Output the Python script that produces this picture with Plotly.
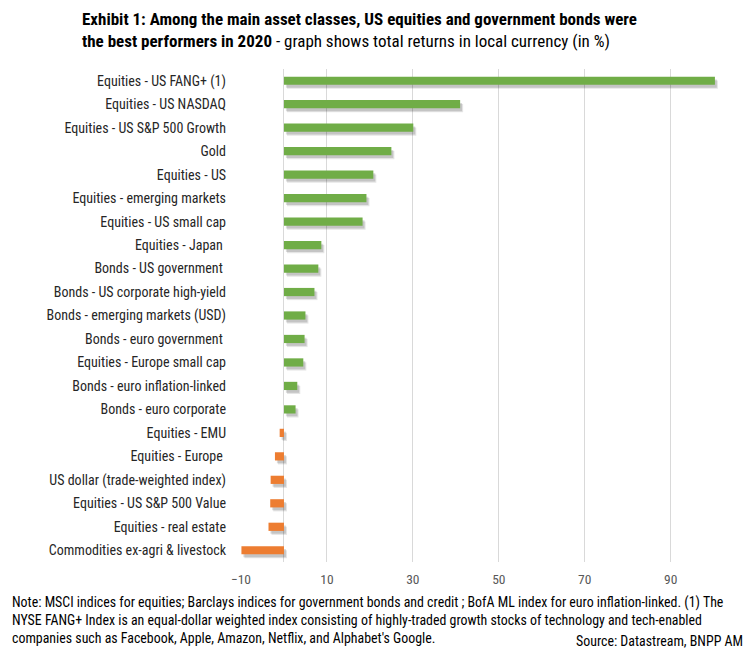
import plotly.graph_objects as go

categories = [
    "Equities - US FANG+ (1)", "Equities - US NASDAQ", "Equities - US S&P 500 Growth", "Gold",
    "Equities - US", "Equities - emerging markets", "Equities - US small cap", "Equities - Japan ",
    "Bonds - US government ", "Bonds - US corporate high-yield", "Bonds - emerging markets (USD)",
    "Bonds - euro government ", "Equities - Europe small cap", "Bonds - euro inflation-linked",
    "Bonds - euro corporate", "Equities - EMU", "Equities - Europe ", "US dollar (trade-weighted index)",
    "Equities - US S&P 500 Value", "Equities - real estate", "Commodities ex-agri & livestock",
]
values = [100.3, 41.0, 30.1, 25.0, 20.8, 19.2, 18.3, 8.7, 8.0, 7.1, 5.0, 4.8, 4.5, 3.1,
          2.7, -1.0, -2.1, -3.1, -3.2, -3.6, -9.9]
tick_vals = [-10, 10, 30, 50, 70, 90]

GREEN = "#70AD47"
ORANGE = "#ED7D31"
colors = [GREEN if v >= 0 else ORANGE for v in values]
FONT = "Liberation Sans Narrow, Arial Narrow, Roboto Condensed, Liberation Sans, sans-serif"

W = 0.35
fig = go.Figure()
# soft drop shadow
for shift, base, alpha in [(0.17, 0.7, 0.10), (0.12, 0.45, 0.14)]:
    fig.add_trace(go.Bar(
        y=categories, x=values, base=base, orientation="h",
        width=W, offset=-W / 2 + shift,
        marker=dict(color=f"rgba(0,0,0,{alpha})", line=dict(width=0)),
        hoverinfo="skip", showlegend=False,
    ))
fig.add_trace(go.Bar(
    y=categories, x=values, orientation="h", width=W, offset=-W / 2,
    marker=dict(color=colors, line=dict(width=0)), showlegend=False,
))

L, R, T, B = 241, 0, 69, 91
fig.update_layout(
    width=748, height=653, autosize=False,
    margin=dict(l=L, r=R, t=T, b=B, pad=0),
    barmode="overlay",
    plot_bgcolor="white", paper_bgcolor="white",
    font=dict(family=FONT, size=14, color="#262626"),
    xaxis=dict(
        range=[-10, 108], tickvals=tick_vals, showgrid=True, gridcolor="#D9D9D9", gridwidth=1,
        zeroline=True, zerolinecolor="#D9D9D9", zerolinewidth=1, showline=False,
        tickfont=dict(family=FONT, size=13.5, color="#595959"), ticks="", ticklabelstandoff=7,
    ),
    yaxis=dict(
        type="category", range=[20.5, -0.5], showgrid=False, showline=False, ticks="",
        tickfont=dict(family=FONT, size=14, color="#262626"), ticklabelstandoff=14,
    ),
)

def px_x(px):
    return (px - L) / (748 - L - R)

def px_y(py):
    return (653 - B - py) / (653 - T - B)

fig.add_annotation(x=px_x(80), y=px_y(7), xref="paper", yref="paper", showarrow=False, align="left",
                   xanchor="left", yanchor="top",
                   text="<b>Exhibit 1: Among the main asset classes, US equities and government bonds were<br>"
                        "the best performers in 2020</b> - graph shows total returns in local currency (in %)",
                   font=dict(family=FONT, size=17, color="#000000"))
fig.add_annotation(x=px_x(10), y=px_y(592), xref="paper", yref="paper", showarrow=False, align="left",
                   xanchor="left", yanchor="top",
                   text="Note: MSCI indices for equities; Barclays indices for government bonds and credit ; "
                        "BofA ML index for euro inflation-linked. (1) The<br>NYSE FANG+ Index is an equal-dollar "
                        "weighted index consisting of highly-traded growth stocks of technology and tech-enabled<br>"
                        "companies such as Facebook, Apple, Amazon, Netflix, and Alphabet's Google.",
                   font=dict(family=FONT, size=13.9, color="#000000"))
fig.add_annotation(x=px_x(745), y=px_y(641), xref="paper", yref="paper", showarrow=False, align="right",
                   xanchor="right", yanchor="middle",
                   text="Source: Datastream, BNPP AM",
                   font=dict(family=FONT, size=13.9, color="#000000"))

fig.write_html("out.html")
